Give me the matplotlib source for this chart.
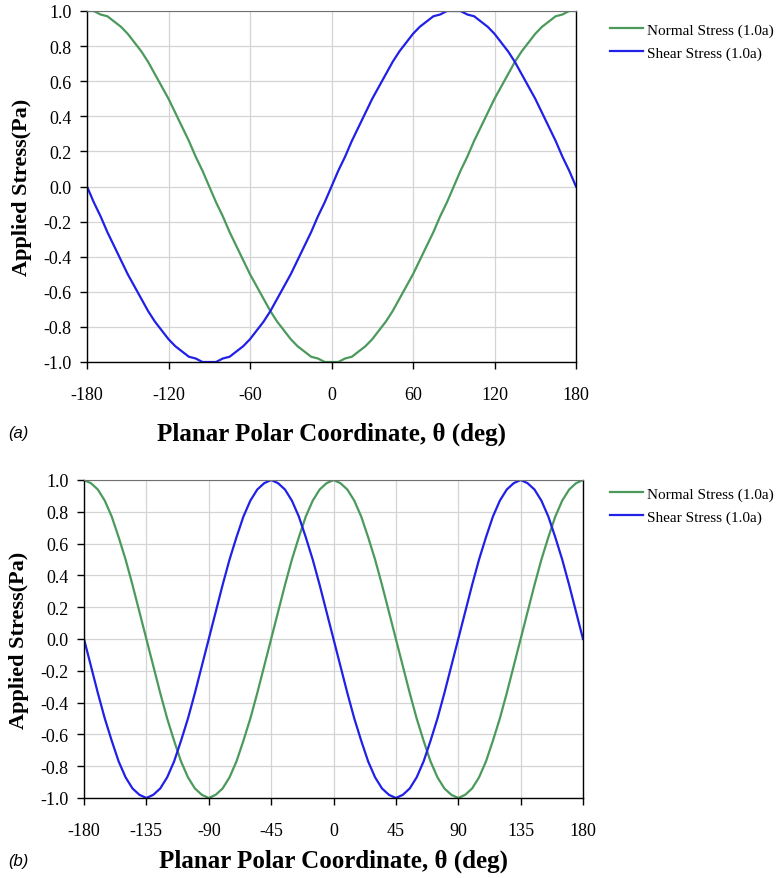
import numpy as np
import matplotlib
matplotlib.use("Agg")
import matplotlib.pyplot as plt

# angle samples (deg), read every 5 degrees
theta = list(range(-180, 181, 5))

# panel (a)
normal_a = [1.00, 1.00, 0.98, 0.97, 0.94, 0.91, 0.87, 0.82, 0.77, 0.71, 0.64, 0.57,
            0.50, 0.42, 0.34, 0.26, 0.17, 0.09, 0.00, -0.09, -0.17, -0.26, -0.34, -0.42,
            -0.50, -0.57, -0.64, -0.71, -0.77, -0.82, -0.87, -0.91, -0.94, -0.97, -0.98, -1.00,
            -1.00, -1.00, -0.98, -0.97, -0.94, -0.91, -0.87, -0.82, -0.77, -0.71, -0.64, -0.57,
            -0.50, -0.42, -0.34, -0.26, -0.17, -0.09, 0.00, 0.09, 0.17, 0.26, 0.34, 0.42,
            0.50, 0.57, 0.64, 0.71, 0.77, 0.82, 0.87, 0.91, 0.94, 0.97, 0.98, 1.00, 1.00]
shear_a = [0.00, -0.09, -0.17, -0.26, -0.34, -0.42, -0.50, -0.57, -0.64, -0.71, -0.77, -0.82,
           -0.87, -0.91, -0.94, -0.97, -0.98, -1.00, -1.00, -1.00, -0.98, -0.97, -0.94, -0.91,
           -0.87, -0.82, -0.77, -0.71, -0.64, -0.57, -0.50, -0.42, -0.34, -0.26, -0.17, -0.09,
           0.00, 0.09, 0.17, 0.26, 0.34, 0.42, 0.50, 0.57, 0.64, 0.71, 0.77, 0.82,
           0.87, 0.91, 0.94, 0.97, 0.98, 1.00, 1.00, 1.00, 0.98, 0.97, 0.94, 0.91,
           0.87, 0.82, 0.77, 0.71, 0.64, 0.57, 0.50, 0.42, 0.34, 0.26, 0.17, 0.09, 0.00]

# panel (b)
normal_b = [1.00, 0.98, 0.94, 0.87, 0.77, 0.64, 0.50, 0.34, 0.17, 0.00, -0.17, -0.34,
            -0.50, -0.64, -0.77, -0.87, -0.94, -0.98, -1.00, -0.98, -0.94, -0.87, -0.77, -0.64,
            -0.50, -0.34, -0.17, 0.00, 0.17, 0.34, 0.50, 0.64, 0.77, 0.87, 0.94, 0.98,
            1.00, 0.98, 0.94, 0.87, 0.77, 0.64, 0.50, 0.34, 0.17, 0.00, -0.17, -0.34,
            -0.50, -0.64, -0.77, -0.87, -0.94, -0.98, -1.00, -0.98, -0.94, -0.87, -0.77, -0.64,
            -0.50, -0.34, -0.17, 0.00, 0.17, 0.34, 0.50, 0.64, 0.77, 0.87, 0.94, 0.98, 1.00]
shear_b = [0.00, -0.17, -0.34, -0.50, -0.64, -0.77, -0.87, -0.94, -0.98, -1.00, -0.98, -0.94,
           -0.87, -0.77, -0.64, -0.50, -0.34, -0.17, 0.00, 0.17, 0.34, 0.50, 0.64, 0.77,
           0.87, 0.94, 0.98, 1.00, 0.98, 0.94, 0.87, 0.77, 0.64, 0.50, 0.34, 0.17,
           0.00, -0.17, -0.34, -0.50, -0.64, -0.77, -0.87, -0.94, -0.98, -1.00, -0.98, -0.94,
           -0.87, -0.77, -0.64, -0.50, -0.34, -0.17, 0.00, 0.17, 0.34, 0.50, 0.64, 0.77,
           0.87, 0.94, 0.98, 1.00, 0.98, 0.94, 0.87, 0.77, 0.64, 0.50, 0.34, 0.17, 0.00]

xticks_a = [-180, -120, -60, 0, 60, 120, 180]
xticks_b = [-180, -135, -90, -45, 0, 45, 90, 135, 180]
yticks = [-1.0, -0.8, -0.6, -0.4, -0.2, 0.0, 0.2, 0.4, 0.6, 0.8, 1.0]

GREEN = "#4b9a5c"
BLUE = "#2020e6"

plt.rcParams["font.family"] = ["Liberation Serif", "DejaVu Serif"]
plt.rcParams["axes.unicode_minus"] = False

W, H = 779, 879
fig = plt.figure(figsize=(W / 100, H / 100), dpi=100)


def box(l, t, r, b):
    return [l / W, 1 - b / H, (r - l) / W, (b - t) / H]


panels = [
    (box(87, 12, 576, 363), normal_a, shear_a, xticks_a, "(a)", 434, 24, 14),
    (box(84, 481, 583, 799), normal_b, shear_b, xticks_b, "(b)", 862, 488, 7),
]

for rect, normal, shear, xt, tag, tag_y, leg_top, xpad in panels:
    ax = fig.add_axes(rect)
    ln1, = ax.plot(theta, normal, color=GREEN, lw=1.6, label="Normal Stress (1.0a)")
    ln2, = ax.plot(theta, shear, color=BLUE, lw=1.6, label="Shear Stress (1.0a)")
    ax.set_xlim(-180, 180)
    ax.set_ylim(-1.0, 1.0)
    ax.set_xticks(xt)
    ax.set_yticks(yticks)
    ax.set_yticklabels(["%.1f" % v for v in yticks])
    ax.grid(True, color="#d4d4d4", lw=0.9)
    ax.set_axisbelow(True)
    ax.tick_params(direction="out", length=5, width=1, labelsize=13, pad=6)
    ax.tick_params(axis="x", pad=12)
    for s in ["left", "bottom", "right"]:
        ax.spines[s].set_color("black")
        ax.spines[s].set_linewidth(1.0)
    ax.spines["top"].set_color("#707070")
    ax.set_xlabel("Planar Polar Coordinate, θ (deg)", fontsize=18, fontweight="bold", labelpad=xpad)
    ax.set_ylabel("Applied Stress(Pa)", fontsize=16, fontweight="bold", labelpad=8)
    fig.text(8 / W, 1 - tag_y / H, tag, fontsize=12, style="italic",
             family="Liberation Sans", va="center", ha="left")
    fig.legend(handles=[ln1, ln2], loc="upper left",
               bbox_to_anchor=(610 / W, 1 - leg_top / H),
               frameon=False, fontsize=11, handlelength=2.15, handletextpad=0.26,
               labelspacing=0.6, borderpad=0, borderaxespad=0)

fig.savefig("out.png", dpi=100)
